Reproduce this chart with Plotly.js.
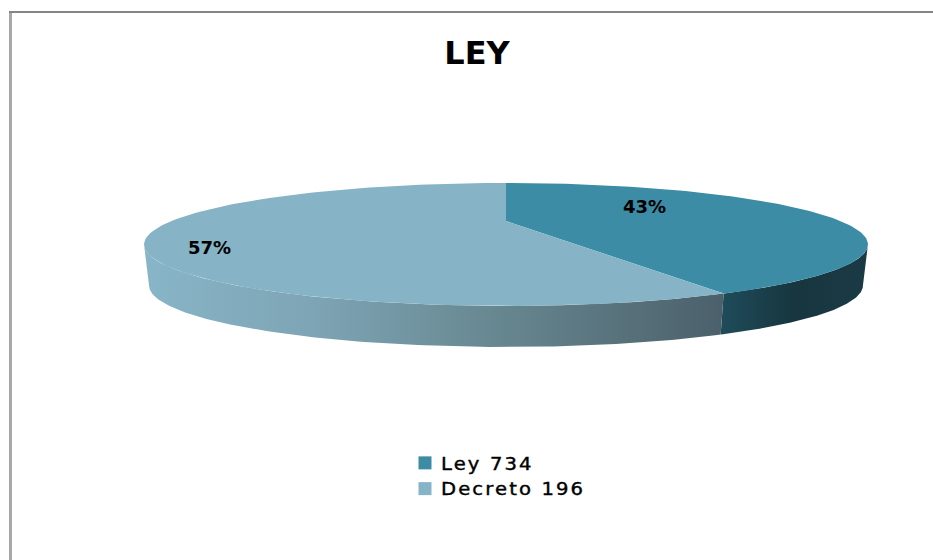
<!DOCTYPE html>
<html>
<head>
<meta charset="utf-8">
<script src="https://cdn.plot.ly/plotly-3.0.1.min.js"></script>
<style>
html, body { margin: 0; padding: 0; background: #fff; }
#chart { width: 933px; height: 560px; }
/* reference legend type is stretched sideways */
.legendtext {
    letter-spacing: 1.9px;
    stroke: #000;
    stroke-width: 0.4px;
    transform-box: fill-box;
    transform-origin: left center;
    transform: translateX(-4px) scaleX(1.12);
}
</style>
</head>
<body>
<div id="chart"></div>
<script>
const categories = ['Ley 734', 'Decreto 196'];
const shares = [43, 57];
const topColors = ['#3c8ca5', '#86b4c6'];
const titleText = 'LEY';

// the flat pie seen in perspective: unit circle pushed through a simple projection
const cx = 506, apexY = 221, a = 334.5, b = 52.5, k = 0.382;
const depth = 41, bottomScale = 357 / 362;
const tangent = Math.acos(-k); // where the wall starts to be visible

function rimPoint(theta, scale, dy) {
    let u = Math.sin(theta), v = Math.cos(theta), w = 1 + k * v;
    return [cx + scale * a * u / w, apexY + dy - b * v / w];
}

function arc(from, to, scale, dy) {
    let pts = [];
    let steps = 120;
    for (let i = 0; i <= steps; i++) {
        pts.push(rimPoint(from + (to - from) * i / steps, scale, dy));
    }
    return pts;
}

function polyTrace(pts, extra) {
    return Object.assign({
        x: pts.map(p => p[0]),
        y: pts.map(p => p[1]),
        mode: 'lines',
        fill: 'toself',
        line: { width: 0 },
        hoverinfo: 'skip',
        showlegend: false
    }, extra);
}

function wallTrace(from, to, scale) {
    let pts = arc(from, to, 1, 0).concat(arc(to, from, bottomScale, depth));
    return polyTrace(pts, {
        fillcolor: scale[0][1],
        fillgradient: { type: 'horizontal', colorscale: scale }
    });
}

let total = shares.reduce((s, v) => s + v, 0);
let split = 2 * Math.PI * shares[0] / total;

let traces = [
    wallTrace(tangent, split, [[0, '#1f4c5a'], [0.5, '#17363f'], [1, '#1a3a45']]),
    wallTrace(split, 2 * Math.PI - tangent, [[0, '#88b5c8'], [0.3, '#7da4b4'], [0.62, '#66868f'], [1, '#4b606a']]),
    polyTrace([[cx, apexY]].concat(arc(0, split, 1, 0)), { fillcolor: topColors[0] }),
    polyTrace([[cx, apexY]].concat(arc(split, 2 * Math.PI, 1, 0)), { fillcolor: topColors[1] })
];

// legend entries, the slices themselves would show a line swatch
categories.forEach((name, i) => {
    traces.push({
        x: [null],
        y: [null],
        mode: 'markers',
        name: name,
        marker: { symbol: 'square', size: 13, color: topColors[i] },
        hoverinfo: 'skip'
    });
});

let labelFont = { family: 'DejaVu Sans', size: 18, color: '#000', weight: 'bold' };

let layout = {
    width: 933,
    height: 560,
    margin: { l: 0, r: 0, t: 0, b: 0 },
    paper_bgcolor: '#fff',
    plot_bgcolor: '#fff',
    title: {
        text: '<b>' + titleText + '</b>',
        font: { family: 'DejaVu Sans', size: 32, color: '#000' },
        x: 477 / 933,
        xanchor: 'center',
        y: 1 - 53 / 560,
        yanchor: 'middle'
    },
    xaxis: { range: [0, 933], visible: false, fixedrange: true },
    yaxis: { range: [560, 0], visible: false, fixedrange: true },
    showlegend: true,
    legend: {
        x: 405 / 933,
        xanchor: 'left',
        y: 1 - 445 / 560,
        yanchor: 'top',
        bgcolor: 'rgba(0,0,0,0)',
        font: { family: 'DejaVu Sans', size: 17.5, color: '#000' },
        itemclick: false,
        itemdoubleclick: false
    },
    annotations: [
        { x: 644, y: 206, text: shares[0] + '%', showarrow: false, font: labelFont },
        { x: 209, y: 247, text: shares[1] + '%', showarrow: false, font: labelFont }
    ],
    shapes: [
        { type: 'line', xref: 'x', yref: 'y', x0: 10.5, x1: 10.5, y0: 11, y1: 560, line: { color: '#a8a8a8', width: 3 } },
        { type: 'line', xref: 'x', yref: 'y', x0: 9, x1: 933, y0: 12, y1: 12, line: { color: '#858585', width: 2 } }
    ]
};

Plotly.newPlot('chart', traces, layout, { displayModeBar: false, staticPlot: true });
</script>
</body>
</html>
